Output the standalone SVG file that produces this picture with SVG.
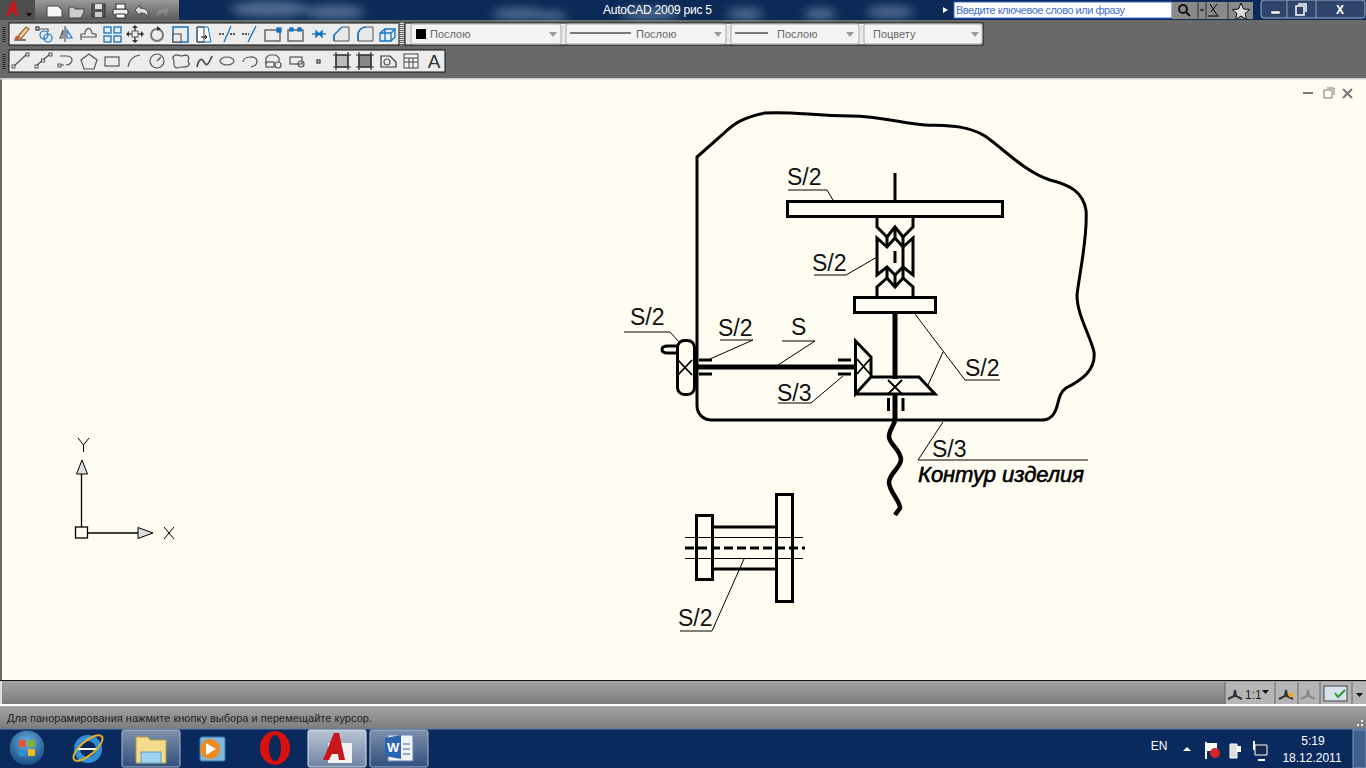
<svg xmlns="http://www.w3.org/2000/svg" width="1366" height="768" viewBox="0 0 1366 768">
<style>
.th{fill:none;stroke:#000;stroke-width:3;stroke-linejoin:miter}
.thk{fill:none;stroke:#000;stroke-width:5}
.ld{fill:none;stroke:#000;stroke-width:1}
.x{fill:none;stroke:#000;stroke-width:1.800}
.lb{font-family:"Liberation Sans",Arial,sans-serif;font-size:23px;fill:#111}
.ui{font-family:"Liberation Sans",Arial,sans-serif;font-size:11px;fill:#666}
.tb{fill:#ececec;stroke:#111;stroke-width:1}
.combo{fill:#f4f4f4;stroke:#aaa;stroke-width:1}
.ig{fill:none;stroke:#555;stroke-width:1.2}
.ib{fill:none;stroke:#1173c5;stroke-width:1.3}
.wt{font-family:"Liberation Sans",Arial,sans-serif;fill:#fff}
</style>
<defs>
<linearGradient id="gq" x1="0" y1="0" x2="0" y2="1"><stop offset="0" stop-color="#9a9a9a"/><stop offset="1" stop-color="#5c5c5c"/></linearGradient>
<linearGradient id="gs" x1="0" y1="0" x2="0" y2="1"><stop offset="0" stop-color="#a2a2a2"/><stop offset="1" stop-color="#7c7c7c"/></linearGradient>
<linearGradient id="gb" x1="0" y1="0" x2="0" y2="1"><stop offset="0" stop-color="#7f90aa"/><stop offset="1" stop-color="#31507f"/></linearGradient>
<linearGradient id="gw" x1="0" y1="0" x2="0" y2="1"><stop offset="0" stop-color="#b9c4d2"/><stop offset="1" stop-color="#6f84a4"/></linearGradient>
<radialGradient id="go" cx=".5" cy=".35" r=".7"><stop offset="0" stop-color="#6fb3e6"/><stop offset="1" stop-color="#0b3f78"/></radialGradient>
<filter id="bl" x="-50%" y="-50%" width="200%" height="200%"><feGaussianBlur stdDeviation="5"/></filter>
</defs>
<rect width="1366" height="768" fill="#696969"/>
<g id="titlebar">
<rect width="1366" height="20" fill="#0c2a58"/>
<g fill="#7f97b5" opacity=".6" filter="url(#bl)">
<ellipse cx="270" cy="9" rx="40" ry="8"/><ellipse cx="335" cy="12" rx="30" ry="7"/><ellipse cx="520" cy="14" rx="28" ry="6"/><ellipse cx="552" cy="16" rx="14" ry="5"/><ellipse cx="650" cy="14" rx="30" ry="6"/><ellipse cx="745" cy="14" rx="18" ry="6"/><ellipse cx="820" cy="14" rx="16" ry="6"/><ellipse cx="890" cy="12" rx="24" ry="6"/>
</g>
<text class="wt" x="603" y="14" font-size="12" textLength="109">AutoCAD 2009 рис 5</text>
<path d="M943 7l5 3-5 3z" fill="#fff"/>
<rect x="954" y="2" width="218" height="16" fill="#fff" stroke="#3a6ad0"/>
<text x="956" y="14" font-family="'Liberation Sans',Arial,sans-serif" font-size="11" fill="#3f6fd0" textLength="169">Введите ключевое слово или фразу</text>
<rect x="1172" y="2" width="81" height="17" fill="#8a8a8a"/>
<path d="M1198 2v17M1206 2v17M1228 2v17" stroke="#333"/>
<circle cx="1183" cy="9" r="4" fill="none" stroke="#111" stroke-width="2"/><path d="M1186 12l4 4" stroke="#111" stroke-width="2"/>
<path d="M1199.500 9h5l-2.500 3z" fill="#333"/>
<path d="M1210 4l7 11M1217 4l-6 8M1208 16h11" class="ld"/>
<path d="M1241 3l2.500 6 6 .5-4.500 4 1.500 6-5.500-3.500-5.500 3.500 1.500-6-4.500-4 6-.5z" fill="#ddd" stroke="#111"/>
<rect x="1261" y="0" width="104" height="18" rx="3" fill="#2f456c" stroke="#9fb0c8"/>
<path d="M1287 0v18M1316 0v18" stroke="#8ea1bb"/>
<rect x="1271" y="11" width="9" height="3" fill="#fff" stroke="#333" stroke-width=".5"/>
<path d="M1296 6h8v9h-8zM1298 4h8v8" fill="none" stroke="#fff" stroke-width="1.500"/>
<text class="wt" x="1340" y="14" font-size="12" font-weight="700" text-anchor="middle">X</text>
</g>
<g id="appmenu">
<rect x="35" y="0" width="144" height="20" fill="url(#gq)"/>
<rect x="0" y="0" width="35" height="20" fill="#4e4e4e"/>
<path d="M6 16L12 1h3l3 15h-3l-1-4h-3l-2 4z" fill="#c8161d"/>
<path d="M26 13h6l-3 4z" fill="#111"/>
<path d="M47 6h11l4 4v7H47z" fill="#f6f6f6" stroke="#444"/>
<path d="M69 7h5l1 2h9v3l-3 6H69z" fill="#ccc" stroke="#444"/>
<rect x="92" y="4" width="13" height="13" fill="#555" stroke="#333"/><rect x="95" y="4" width="7" height="5" fill="#ddd"/><rect x="95" y="12" width="7" height="5" fill="#ccc"/>
<rect x="113" y="9" width="15" height="6" rx="2" fill="#eee" stroke="#333"/><rect x="116" y="4" width="9" height="5" fill="#fff" stroke="#333"/><rect x="116" y="14" width="9" height="4" fill="#fff" stroke="#333"/>
<path d="M135 10l5-5v3c6 0 9 3 8 9-1-3-4-4-8-4v3z" fill="#ddd" stroke="#444"/>
<path d="M170 10l-5-5v3c-6 0-9 3-8 9 1-3 4-4 8-4v3z" fill="#8d8d8d" stroke="#777"/>
</g>
<g id="toolbar1">
<rect class="tb" x="9" y="23" width="390" height="22"/>
<path d="M4 27v15" stroke="#222" stroke-width="3" stroke-dasharray="1 1"/>
<g class="ig">
<path d="M14 40H26" stroke="#333"/><path d="M18 36l8-9 3 2-8 10z" fill="#e8c9a0" stroke="#a06a30"/><circle cx="17" cy="38" r="2" fill="#d8541e" stroke="none"/>
<rect x="36" y="27" width="3" height="3" stroke="#333"/><path d="M40 29h8v3"/><circle cx="44" cy="35" r="4" stroke="#1173c5"/><circle cx="48" cy="38" r="4" stroke="#1173c5"/>
<path d="M65 26v16M63 38l-3 0 3-8z"/><path d="M67 30v8h5z" stroke="#1173c5"/>
<path d="M81 40V34h4c0-6 5-7 6-4 1 3 0 4 5 4v3H81z"/>
</g>
<g class="ib"><rect x="104" y="27" width="7" height="6"/><rect x="114" y="27" width="7" height="6"/><rect x="104" y="36" width="7" height="6"/><rect x="114" y="36" width="7" height="6"/></g>
<path d="M135 26v16M127 34h16" stroke="#444" stroke-width="1.500"/><path d="M135 25l-3 3h6zM135 43l-3-3h6zM126 34l3-3v6zM144 34l-3-3v6z" fill="#333"/><rect x="132" y="31" width="6" height="6" fill="#ececec" stroke="#555"/>
<circle cx="157" cy="35" r="6" fill="none" stroke="#777" stroke-width="2"/><path d="M157 26l4 3-4 2z" fill="#333"/>
<rect x="173" y="27" width="15" height="15" fill="none" stroke="#1173c5" stroke-width="1.500"/><rect x="173" y="34" width="8" height="8" fill="#ececec" stroke="#444"/>
<path d="M197 27h11l3 15h-14z" fill="#fff" stroke="#1173c5"/><path d="M197 27h7v15h-7z" fill="none" stroke="#444"/><path d="M201 37h6l-2-2m2 2l-2 2" fill="none" stroke="#000"/>
<g class="ib"><path d="M224 42l7-16"/><path d="M219 34h6" stroke="#222" stroke-dasharray="2 1"/><path d="M230 34h6" stroke="#222" stroke-dasharray="2 1"/>
<path d="M248 42l8-16"/><path d="M242 34h7" stroke="#222" stroke-dasharray="2 1"/>
<rect x="265" y="30" width="15" height="11" stroke="#555"/><rect x="277" y="28" width="4" height="4" fill="#1173c5"/>
<rect x="288" y="30" width="15" height="11" stroke="#555"/><rect x="290" y="28" width="3" height="3" fill="#1173c5"/><rect x="298" y="28" width="3" height="3" fill="#1173c5"/>
<path d="M312 34h14"/><path d="M316 31l3 3-3 3zM322 31l-3 3 3 3z" fill="#1173c5"/></g>
<path d="M334 41h15V27h-7l-8 8z" fill="#e8e8e8" stroke="#555"/><path d="M334 41v-6l8-8" fill="none" stroke="#1173c5" stroke-width="1.500"/>
<path d="M358 41h15V27h-7c-5 0-8 4-8 8z" fill="#e8e8e8" stroke="#555"/><path d="M358 41v-6c0-4 3-8 8-8" fill="none" stroke="#1173c5" stroke-width="1.500"/>
<g class="ib"><path d="M380 33l5-4h10v8l-4 4h-11zM380 33h11v8M391 33l4-4M385 29v12"/></g>
</g>
<g id="toolbar2">
<rect class="tb" x="9" y="50" width="436" height="22"/>
<path d="M4 54v15" stroke="#222" stroke-width="3" stroke-dasharray="1 1"/>
<g class="ig">
<path d="M13 67l14-13M36 66l14-12M59 65h5M60 56h6c4 0 6 2 6 4s-2 5-6 5"/>
<path d="M89 54l8 6-3 9h-10l-3-9z"/><rect x="105" y="57" width="14" height="9"/>
<path d="M128 67c1-7 5-11 12-12"/><circle cx="157" cy="61" r="7"/><path d="M157 61l4-4"/>
<path d="M174 56c3-3 5 0 7 0s5-2 7 0 0 4 0 5 3 3 0 5-5 1-7 1-4 2-6 0-1-4-1-6-3-3 0-5z"/>
<path d="M197 67c2-9 5-9 7-5s4 4 8-6" stroke-width="1.800"/><ellipse cx="227" cy="61" rx="7" ry="4"/>
<path d="M243 62c0-6 14-7 14-1s-5 5-6 6"/>
<path d="M266 64v-6l3-3h7l3 3v4"/><rect x="266" y="62" width="8" height="5"/><circle cx="278" cy="65" r="3"/>
<rect x="290" y="57" width="12" height="7"/><circle cx="301" cy="64" r="3"/>
<rect x="317" y="60" width="3" height="3" stroke="#333"/>
<rect x="336" y="55" width="12" height="12" fill="#bbb" stroke="#333"/><path d="M333 55h18M333 67h18M336 52v18M348 52v18" stroke="#333"/>
<rect x="359" y="55" width="12" height="12" fill="#888" stroke="#333"/><path d="M356 55h18M356 67h18M359 52v18M371 52v18" stroke="#333"/>
<path d="M381 56h9l6 6v5h-15z" stroke="#333"/><circle cx="387" cy="62" r="3"/>
</g>
<g fill="#ececec" stroke="#333" stroke-width=".8"><rect x="12" y="65" width="3" height="3"/><rect x="26" y="53" width="3" height="3"/><rect x="35" y="65" width="3" height="3"/><rect x="49" y="53" width="3" height="3"/><rect x="41.500" y="59" width="3" height="3"/><rect x="58" y="64" width="3" height="3"/></g>
<rect x="404" y="54" width="14" height="14" fill="#f4f4f4" stroke="#444"/><path d="M404 58h14M404 62h14M409 58v10M413 58v10" stroke="#444"/>
<text x="434" y="68" font-family="'Liberation Sans',Arial,sans-serif" font-size="19" fill="#333" text-anchor="middle">A</text>
</g>
<g id="combos">
<path d="M402 23v22" stroke="#ddd" stroke-width="5" stroke-dasharray="1 1"/>
<rect x="405" y="23" width="578" height="22" fill="#e8e8e8" stroke="#111"/>
<rect class="combo" x="411" y="24" width="150" height="20" rx="2"/>
<rect class="combo" x="566" y="24" width="160" height="20" rx="2"/>
<rect class="combo" x="731" y="24" width="128" height="20" rx="2"/>
<rect class="combo" x="864" y="24" width="118" height="20" rx="2"/>
<rect x="416" y="29" width="10" height="10" fill="#000"/>
<path d="M570 33h61M735 33h33" stroke="#000"/>
<text class="ui" x="430" y="38">Послою</text><text class="ui" x="636" y="38">Послою</text><text class="ui" x="777" y="38">Послою</text><text class="ui" x="873" y="38">Поцвету</text>
<g fill="#999"><path d="M549 32h8l-4 5z"/><path d="M714 32h8l-4 5z"/><path d="M846 32h8l-4 5z"/><path d="M971 32h8l-4 5z"/></g>
</g>
<rect id="viewport" x="2" y="79" width="1364" height="601" fill="#fffdf2"/>
<rect x="0" y="78" width="1366" height="1.500" fill="#ccc"/>
<path id="viewport-edge" d="M0 680.500H1366" stroke="#111"/>
<g id="viewport-controls" fill="none" stroke="#777">
<path d="M1303 93h10" stroke-width="2"/><path d="M1324 90h8v8h-8zM1327 88h7v7"/><path d="M1343 89l9 9M1352 89l-9 9" stroke-width="2"/>
</g>
<g id="ucs">
<rect x="75.500" y="527" width="12" height="11" fill="none" stroke="#000" stroke-width="1.300"/>
<path d="M81.500 527V474M88 533h50" stroke="#000" stroke-width="1.300" fill="none"/>
<path d="M82 460l-5.500 14h11zM138 527.500l15 5.500-15 5.500z" fill="#ddd" stroke="#000"/>
<path d="M78 438l5.500 7 5.500-7M83.500 445v7M164 527l10 12M174 527l-10 12" fill="none" stroke="#000" stroke-width="1"/>
</g>
<g id="connectors">
<path class="ld" d="M788 190H827L833 200"/>
<path class="ld" d="M814 275H846L877 257"/>
<path class="ld" d="M624 332H670L679 342"/>
<path class="ld" d="M720 340H753L710 359"/>
<path class="ld" d="M782 341H815L778 365"/>
<path class="ld" d="M778 403H811L843 376"/>
<path class="ld" d="M915 314L965 380H1000M943 352L928 385"/>
<path class="ld" d="M943 422L918 460H1088"/>
<path class="ld" d="M680 631H712L744 559"/>
</g>
<g id="body-contour">
<path class="th" d="M697 157L722 135C735 122 745 117 765 113C790 111 815 116 850 116C880 116 905 124 925 125C945 126 965 124 985 136C1005 150 1025 172 1050 180C1070 185 1083 192 1086 210C1088 235 1080 270 1077 295C1077 315 1090 335 1094 352C1096 370 1082 380 1066 388C1056 395 1060 408 1052 416C1048 420 1045 420 1038 420H712C703 420 697 414 697 405Z"/>
</g>
<g id="input-gear">
<path class="th" d="M677 346H668C660 346 660 353 668 353H677"/>
<rect class="th" x="677.500" y="340.500" width="17" height="54" rx="7" fill="#fffdf2"/>
<path class="x" d="M678 360L692 375M692 360L678 375"/>
</g>
<g id="input-shaft">
<path class="thk" d="M695 367H855"/>
<path class="th" d="M699 360H712M699 374H712M838 360H851M838 374H851"/>
</g>
<g id="bevel-pair">
<path class="th" d="M855.500 341L871 357V377L855.500 394ZM871 377H919L935 394H855.500"/>
<path class="x" d="M857 359L870 374M870 359L857 374M888 380L902 394M902 380L888 394"/>
<path class="thk" d="M895 314V379M895 394V420"/>
<path class="th" d="M888.500 398V411M903 398V411"/>
</g>
<path id="drive-shaft" d="M895 421C892 428 889 431 889 437C890 445 901 450 901 460C900 468 890 473 889 482C889 492 900 500 900 508L895 515" fill="none" stroke="#000" stroke-width="4.500"/>
<g id="upper-plate">
<path class="th" d="M895 173V201"/>
<rect class="th" x="787.500" y="201.500" width="215" height="15"/>
</g>
<g id="coupling">
<path class="th" d="M877 217V227L887 237L895 227L903 237L913 227V217"/>
<path class="th" d="M877 238L887 247L895 238L903 247L913 238V275L903 267L895 275L887 267L877 275Z"/>
<path class="th" d="M877 297V287L887 278L895 287L903 278L913 287V297"/>
<path class="th" d="M903 237V278M887 237V247M887 267V278M895 228V240M895 274V286"/>
<path class="th" d="M895 251V263"/>
</g>
<rect id="lower-plate" class="th" x="854.500" y="297.500" width="81" height="15"/>
<g id="lower-assembly">
<rect class="th" x="696.500" y="515.500" width="16" height="64"/>
<rect class="th" x="776.500" y="494.500" width="16" height="107"/>
<path class="th" d="M713 527H776M713 569H776"/>
<path class="ld" d="M685 537.500H803M685 558.500H803"/>
<path d="M685 548H805" fill="none" stroke="#000" stroke-width="3" stroke-dasharray="9 4"/>
</g>
<g id="labels">
<text class="lb" x="787" y="185">S/2</text>
<text class="lb" x="812" y="271">S/2</text>
<text class="lb" x="630" y="325">S/2</text>
<text class="lb" x="718" y="336">S/2</text>
<text class="lb" x="791" y="335">S</text>
<text class="lb" x="777" y="401">S/3</text>
<text class="lb" x="965" y="376">S/2</text>
<text class="lb" x="932" y="457">S/3</text>
<text class="lb" x="678" y="626">S/2</text>
<text x="918" y="482" font-family="'Liberation Sans',Arial,sans-serif" font-size="22" font-style="italic" fill="#000" stroke="#000" stroke-width=".6" textLength="166">Контур изделия</text>
</g>
<g id="bottom-bars">
<rect x="0" y="681" width="1366" height="23" fill="url(#gs)"/>
<rect x="0" y="681" width="2" height="24" fill="#ddd"/>
<rect x="1225" y="682" width="141" height="22" fill="#b5b5b5"/>
<path d="M1225 682v22M1275 682v22M1298 682v22M1320 682v22M1352 682v22" stroke="#666"/>
<path d="M1235 690l-1 6-6 3M1235 690l1 6 6 3M1234 696h2" fill="none" stroke="#333" stroke-width="2"/>
<text x="1245" y="699" font-family="'Liberation Sans',Arial,sans-serif" font-size="12" fill="#222">1:1</text>
<path d="M1262 690h7l-3.500 4z" fill="#111"/>
<path d="M1286 690l-1 6-6 3M1286 690l1 6 6 3" fill="none" stroke="#333" stroke-width="2"/><circle cx="1291" cy="695" r="2.500" fill="#f4a91c"/>
<path d="M1308 690l-1 6-6 3M1308 690l1 6 6 3" fill="none" stroke="#888" stroke-width="2"/>
<rect x="1324" y="686" width="23" height="15" fill="#d7e2ee" stroke="#444"/><path d="M1335 693l3 4 7-7" fill="none" stroke="#2d9a2d" stroke-width="2"/>
<path d="M1356 693h7l-3.500 4z" fill="#111"/>
<rect x="0" y="704" width="1366" height="2.500" fill="#fff"/>
<rect x="0" y="706.500" width="1366" height="22.500" fill="url(#gs)"/>
<text x="7" y="722" font-family="'Liberation Sans',Arial,sans-serif" font-size="11" fill="#222" textLength="365">Для панорамирования нажмите кнопку выбора и перемещайте курсор.</text>
<g fill="#eee"><rect x="1361" y="720" width="2" height="2"/><rect x="1357" y="724" width="2" height="2"/><rect x="1361" y="724" width="2" height="2"/></g>
</g>
<g id="taskbar">
<rect x="0" y="729" width="1366" height="39" fill="#0a2a5e"/>
<path d="M0 729H1366" stroke="#5f7fa8"/>
<rect x="122" y="730" width="58" height="37" rx="2" fill="url(#gb)" stroke="#a9b8cc"/>
<rect x="308" y="730" width="58" height="37" rx="2" fill="url(#gw)" stroke="#dbe3ec"/>
<rect x="370" y="730" width="58" height="37" rx="2" fill="url(#gb)" stroke="#a9b8cc"/>
<circle cx="27" cy="748" r="18" fill="url(#go)" stroke="#0c2340"/>
<g><rect x="19" y="740" width="7" height="7" fill="#e5552f"/><rect x="28" y="740" width="7" height="7" fill="#7cb52a"/><rect x="19" y="749" width="7" height="7" fill="#2f8fd8"/><rect x="28" y="749" width="7" height="7" fill="#f2b91c"/></g>
<circle cx="88" cy="749" r="11" fill="none" stroke="#2f8fd8" stroke-width="6"/><path d="M78 749h20" stroke="#fff" stroke-width="2"/><ellipse cx="88" cy="748" rx="18" ry="7" transform="rotate(-40 88 748)" fill="none" stroke="#e2b020" stroke-width="2"/>
<path d="M136 737h12l2 3h16v23h-30z" fill="#f2db8a" stroke="#b89a4a"/><rect x="141" y="752" width="20" height="11" fill="#9fd4ee" stroke="#5f9fc0"/>
<rect x="200" y="737" width="25" height="24" rx="2" fill="#7fb6dc" stroke="#3f7fb0"/><circle cx="210" cy="749" r="10" fill="#ef8a1e"/><path d="M206 743l10 6-10 6z" fill="#fff"/>
<ellipse cx="275" cy="748" rx="15" ry="17" fill="#d8110f"/><ellipse cx="275" cy="748" rx="6" ry="13" fill="#0a2a5e"/>
<rect x="328" y="743" width="24" height="20" fill="#f2f2f2"/><path d="M323 760L334 733h5l6 27h-6l-1-6h-6l-3 6z" fill="#c8161d"/>
<path d="M388 735h25v26h-25z" fill="#f2f2f2" stroke="#5f85b5"/><path d="M385 738l16-3v24l-16-3z" fill="#2a63b0"/><text x="387" y="752" font-family="'Liberation Sans',Arial,sans-serif" font-size="13" font-weight="700" fill="#fff">W</text><path d="M403 744h7M403 749h7M403 754h7" stroke="#2a63b0"/>
<text class="wt" x="1159" y="750" font-size="12" text-anchor="middle">EN</text>
<path d="M1183 751h8l-4-4z" fill="#fff"/>
<path d="M1206 742v17" stroke="#fff" stroke-width="2"/><path d="M1207 743h10v8h-10z" fill="#fff"/><circle cx="1215" cy="753" r="5" fill="#d8222a"/>
<path d="M1230 744h7v14h-7z" fill="#ddd" stroke="#fff"/><path d="M1237 746h4v6h-4" fill="#fff"/>
<path d="M1255 745h12v10h-12z" fill="#13294f" stroke="#fff"/><path d="M1254 741v9M1258 760h7" stroke="#fff" stroke-width="2"/>
<text class="wt" x="1313" y="745" font-size="12" text-anchor="middle">5:19</text>
<text class="wt" x="1312" y="762" font-size="12" text-anchor="middle">18.12.2011</text>
<rect x="1353" y="730" width="13" height="38" fill="#3f5f8f" stroke="#7f9abc"/>
</g>
</svg>
